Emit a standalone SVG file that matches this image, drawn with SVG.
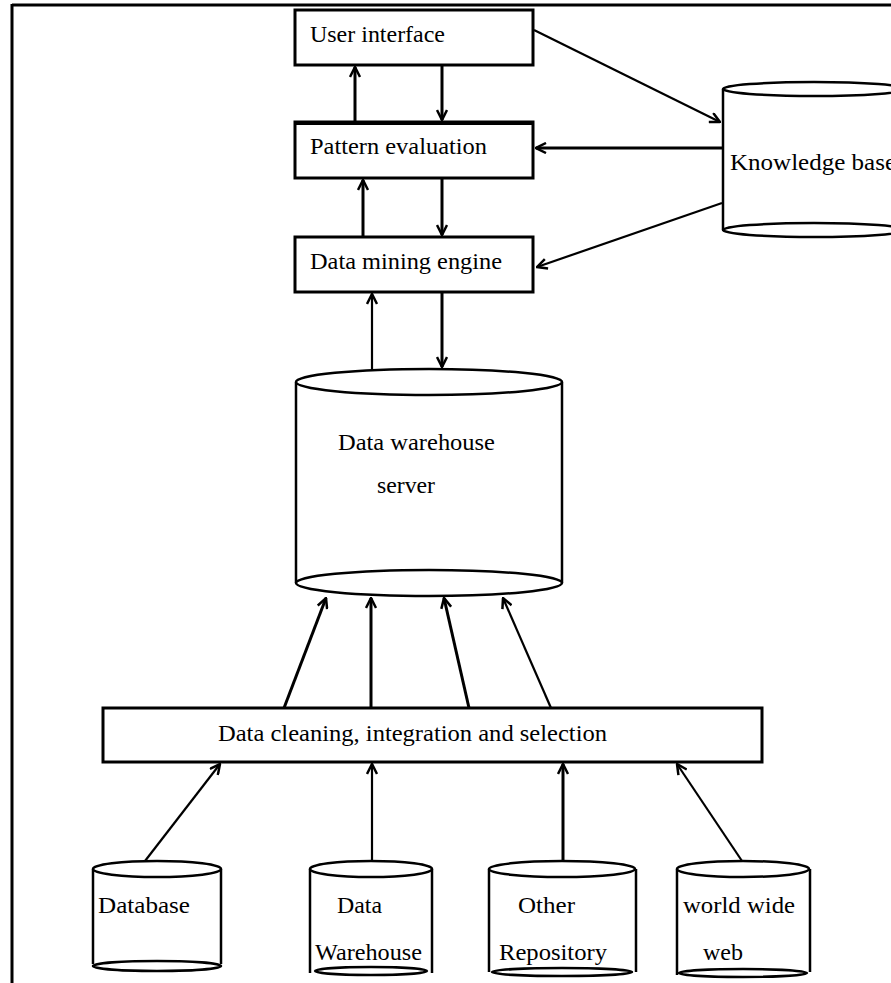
<svg xmlns="http://www.w3.org/2000/svg" width="891" height="983" viewBox="0 0 891 983">
<style>
.box{fill:#fff;stroke:#000;stroke-width:3}
.cyl{fill:#fff;stroke:#000;stroke-width:2.5}
.t{font-family:"Liberation Serif","Times New Roman",serif;font-size:24px;fill:#000}
.c{stroke:#000;stroke-width:3;fill:none}
.thin{stroke-width:2.2}
</style>
<defs>
<marker id="ah" markerUnits="userSpaceOnUse" viewBox="0 0 12 12" refX="11" refY="6" markerWidth="12" markerHeight="12" orient="auto">
<path d="M1,1 L11,6 L1,11" fill="none" stroke="#000" stroke-width="2.5"/>
</marker>
</defs>
<rect width="891" height="983" fill="#fff"/>
<g id="frame">
<line x1="12" y1="5" x2="891" y2="5" stroke="#000" stroke-width="3"/>
<line x1="12" y1="4" x2="12" y2="983" stroke="#000" stroke-width="3"/>
</g>
<g id="user-interface">
<rect class="box" x="295" y="10" width="238" height="55"/>
<text class="t" x="310" y="42" textLength="135" lengthAdjust="spacingAndGlyphs">User interface</text>
</g>
<g id="pattern-evaluation">
<rect class="box" x="295" y="122" width="238" height="56"/>
<line x1="295" y1="123" x2="533" y2="123" stroke="#000" stroke-width="4"/>
<text class="t" x="310" y="154" textLength="177" lengthAdjust="spacingAndGlyphs">Pattern evaluation</text>
</g>
<g id="data-mining-engine">
<rect class="box" x="295" y="237" width="238" height="55"/>
<text class="t" x="310" y="269" textLength="192" lengthAdjust="spacingAndGlyphs">Data mining engine</text>
</g>
<g id="knowledge-base">
<path class="cyl" d="M723,89 L723,230 M905,89 L905,230"/>
<ellipse class="cyl" cx="814" cy="230" rx="91" ry="7"/>
<ellipse class="cyl" cx="814" cy="89" rx="91" ry="7"/>
<text class="t" x="730" y="170" textLength="166" lengthAdjust="spacingAndGlyphs">Knowledge base</text>
</g>
<g id="data-warehouse-server">
<rect x="296" y="382" width="266" height="201" fill="#fff"/>
<path class="cyl" d="M296,382 L296,583 M562,382 L562,583"/>
<ellipse class="cyl" cx="429" cy="583" rx="133" ry="13"/>
<ellipse class="cyl" cx="429" cy="382" rx="133" ry="13"/>
<text class="t" x="338" y="450" textLength="157" lengthAdjust="spacingAndGlyphs">Data warehouse</text>
<text class="t" x="377" y="493" textLength="58" lengthAdjust="spacingAndGlyphs">server</text>
</g>
<g id="data-cleaning">
<rect class="box" x="103" y="708" width="659" height="54"/>
<text class="t" x="218" y="741" textLength="389" lengthAdjust="spacingAndGlyphs">Data cleaning, integration and selection</text>
</g>
<g id="database">
<path class="cyl" d="M93,869 L93,964 M221,869 L221,964"/>
<ellipse class="cyl" cx="157" cy="966" rx="64" ry="5"/>
<ellipse class="cyl" cx="157" cy="869" rx="64" ry="8"/>
<text class="t" x="98" y="913" textLength="92" lengthAdjust="spacingAndGlyphs">Database</text>
</g>
<g id="data-warehouse">
<path class="cyl" d="M310,869 L310,973 M432,869 L432,973"/>
<ellipse class="cyl" cx="371" cy="971" rx="56" ry="4"/>
<ellipse class="cyl" cx="371" cy="869" rx="61" ry="8"/>
<text class="t" x="337" y="913" textLength="45" lengthAdjust="spacingAndGlyphs">Data</text>
<text class="t" x="315" y="960" textLength="107" lengthAdjust="spacingAndGlyphs">Warehouse</text>
</g>
<g id="other-repository">
<path class="cyl" d="M489,869 L489,972 M636,869 L636,972"/>
<ellipse class="cyl" cx="562" cy="972" rx="70" ry="4"/>
<ellipse class="cyl" cx="562" cy="869" rx="73" ry="8"/>
<text class="t" x="518" y="913" textLength="57" lengthAdjust="spacingAndGlyphs">Other</text>
<text class="t" x="499" y="960" textLength="108" lengthAdjust="spacingAndGlyphs">Repository</text>
</g>
<g id="world-wide-web">
<path class="cyl" d="M677,869 L677,975 M810,869 L810,972"/>
<ellipse class="cyl" cx="743" cy="973" rx="64" ry="4"/>
<ellipse class="cyl" cx="743" cy="869" rx="66" ry="8"/>
<text class="t" x="683" y="913" textLength="112" lengthAdjust="spacingAndGlyphs">world wide</text>
<text class="t" x="703" y="960" textLength="40" lengthAdjust="spacingAndGlyphs">web</text>
</g>
<g id="connectors" marker-end="url(#ah)">
<line class="c" x1="355" y1="122" x2="355" y2="67"/>
<line class="c" x1="442" y1="66" x2="442" y2="120"/>
<line class="c" x1="363" y1="237" x2="363" y2="180"/>
<line class="c" x1="442" y1="179" x2="442" y2="235"/>
<line class="c thin" x1="372" y1="369" x2="372" y2="294"/>
<line class="c" x1="442" y1="293" x2="442" y2="367"/>
<line class="c thin" x1="534" y1="30" x2="720" y2="122"/>
<line class="c" x1="722" y1="148" x2="536" y2="148"/>
<line class="c thin" x1="722" y1="203" x2="537" y2="267"/>
<line class="c" x1="284" y1="708" x2="326" y2="598"/>
<line class="c" x1="371" y1="708" x2="371" y2="598"/>
<line class="c" x1="469" y1="708" x2="444" y2="598"/>
<line class="c thin" x1="551" y1="708" x2="503" y2="598"/>
<line class="c thin" x1="145" y1="861" x2="220" y2="764"/>
<line class="c thin" x1="372" y1="861" x2="372" y2="764"/>
<line class="c" x1="563" y1="861" x2="563" y2="764"/>
<line class="c thin" x1="742" y1="861" x2="677" y2="764"/>
</g>
</svg>
